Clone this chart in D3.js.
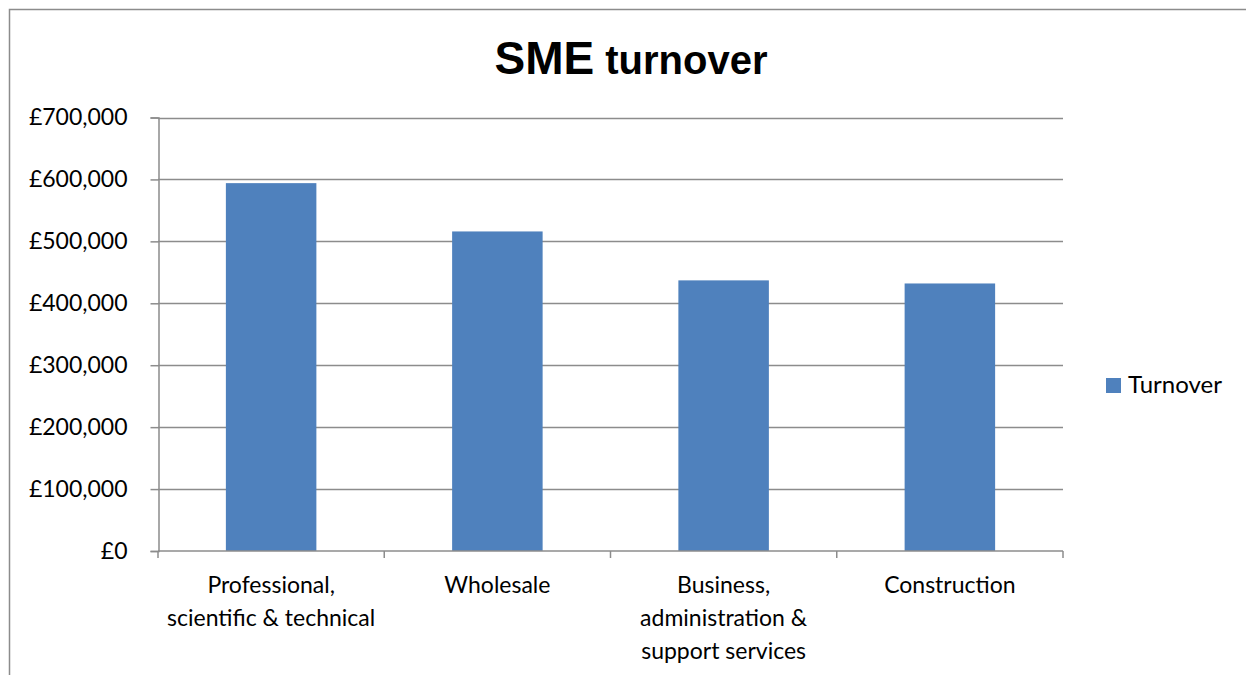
<!DOCTYPE html>
<html>
<head>
<meta charset="utf-8">
<script src="https://cdn.jsdelivr.net/npm/d3@7"></script>
<style>
  html, body { margin: 0; padding: 0; background: #fff; }
  svg { display: block; }
</style>
</head>
<body>
<svg id="chart" width="1246" height="675"></svg>
<script>
// Sector labels, one array entry per line of the wrapped axis label
const categories = [
  "Professional, scientific & technical",
  "Wholesale",
  "Business, administration & support services",
  "Construction"
];
const categoryLines = [
  ["Professional,", "scientific & technical"],
  ["Wholesale"],
  ["Business,", "administration &", "support services"],
  ["Construction"]
];
const turnover = [594000, 516000, 437000, 432000];
const seriesName = "Turnover";
const yTicks = [0, 100000, 200000, 300000, 400000, 500000, 600000, 700000];

const svg = d3.select("#chart");
const W = 1246, H = 675;
const plot = { left: 158, right: 1063, top: 117.5, bottom: 551 };
const gridColor = "#8c8c8c";
const barColor = "#4f81bd";
const labelFont = "Lato, 'Open Sans', sans-serif";

// outer chart frame (runs off the right and bottom edges)
svg.append("rect")
  .attr("x", 9.5).attr("y", 9.5)
  .attr("width", W + 20).attr("height", H + 20)
  .attr("fill", "#fff")
  .attr("stroke", gridColor).attr("stroke-width", 1.5);

const x = d3.scaleBand()
  .domain(categories)
  .range([plot.left, plot.right])
  .paddingInner(0.6)
  .paddingOuter(0.3);

const y = d3.scaleLinear()
  .domain([0, 700000])
  .range([plot.bottom, plot.top]);

// horizontal gridlines
svg.append("g")
  .selectAll("line")
  .data(yTicks.filter(d => d > 0))
  .join("line")
  .attr("x1", plot.left).attr("x2", plot.right)
  .attr("y1", d => Math.round(y(d)) + 0.5).attr("y2", d => Math.round(y(d)) + 0.5)
  .attr("stroke", gridColor).attr("stroke-width", 1.5);

// bars
svg.append("g")
  .selectAll("rect")
  .data(categories)
  .join("rect")
  .attr("x", d => x(d))
  .attr("width", x.bandwidth())
  .attr("y", (d, i) => y(turnover[i]))
  .attr("height", (d, i) => y(0) - y(turnover[i]))
  .attr("fill", barColor);

// y axis
const yAxis = d3.axisLeft(y)
  .tickValues(yTicks)
  .tickSize(8)
  .tickPadding(23)
  .tickFormat(d => "£" + d3.format(",")(d));
const gy = svg.append("g")
  .attr("transform", `translate(${plot.left + 0.5},0)`)
  .call(yAxis);
gy.select(".domain").attr("stroke", gridColor).attr("stroke-width", 1.5);
gy.selectAll(".tick line").attr("stroke", gridColor).attr("stroke-width", 1.5);
gy.selectAll(".tick text")
  .attr("fill", "#000")
  .style("font-family", labelFont)
  .style("font-size", "23px");

// x axis: baseline with tick marks at the category boundaries
const xEdges = d3.range(categories.length + 1)
  .map(i => plot.left + i * (plot.right - plot.left) / categories.length);
const gx = svg.append("g");
gx.append("line")
  .attr("x1", plot.left).attr("x2", plot.right)
  .attr("y1", plot.bottom).attr("y2", plot.bottom)
  .attr("stroke", gridColor).attr("stroke-width", 1.5);
gx.selectAll("line.tk")
  .data(xEdges)
  .join("line")
  .attr("class", "tk")
  .attr("x1", d => d).attr("x2", d => d)
  .attr("y1", plot.bottom).attr("y2", plot.bottom + 7)
  .attr("stroke", gridColor).attr("stroke-width", 1.5);

// category labels
const labels = gx.selectAll("text.cat")
  .data(categories)
  .join("text")
  .attr("class", "cat")
  .attr("text-anchor", "middle")
  .attr("fill", "#000")
  .style("font-family", labelFont)
  .style("font-size", "23px");
labels.each(function(d, i) {
  const t = d3.select(this);
  categoryLines[i].forEach((line, j) => {
    t.append("tspan")
      .attr("x", x(d) + x.bandwidth() / 2)
      .attr("y", 593 + j * 33)
      .text(line);
  });
});

// title
const title = svg.append("text")
  .attr("x", 631).attr("y", 74)
  .attr("text-anchor", "middle")
  .attr("fill", "#000")
  .style("font-family", "'Liberation Sans', Arial, sans-serif")
  .style("font-weight", "bold");
title.append("tspan").style("font-size", "46px").text("SME");
title.append("tspan").style("font-size", "40px").text(" turnover");

// legend
const legend = svg.append("g").attr("transform", "translate(1106,378)");
legend.append("rect")
  .attr("width", 15).attr("height", 15)
  .attr("fill", barColor);
legend.append("text")
  .attr("x", 22).attr("y", 15)
  .attr("fill", "#000")
  .style("font-family", labelFont)
  .style("font-size", "24px")
  .text(seriesName);
</script>
</body>
</html>
